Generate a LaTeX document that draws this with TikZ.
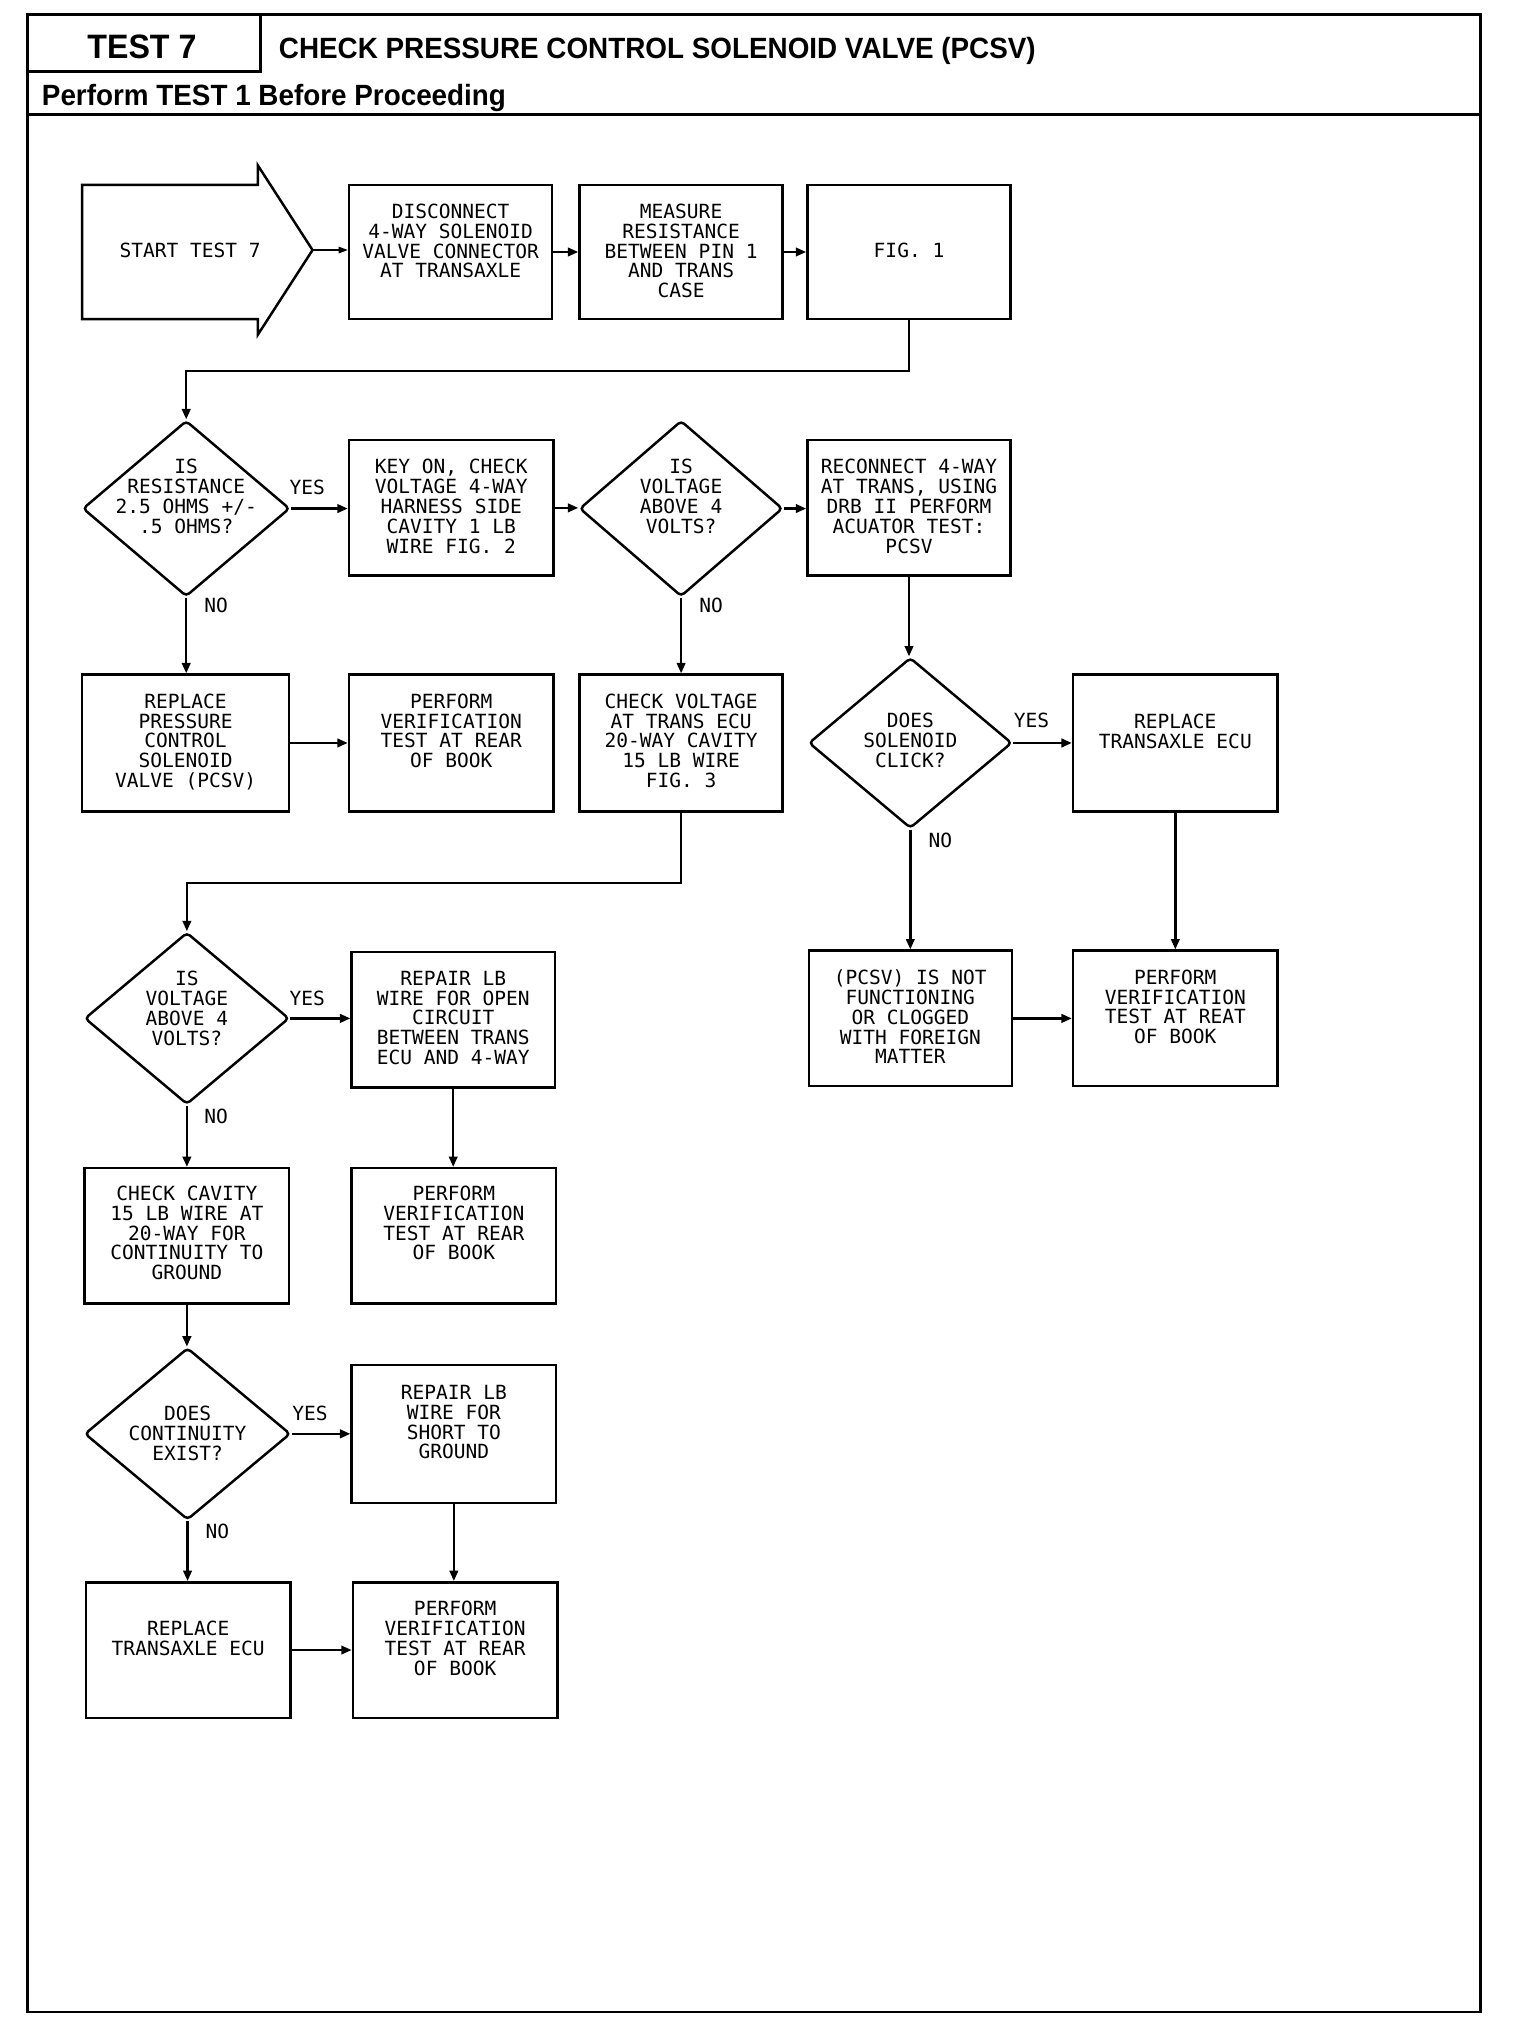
\documentclass[tikz,border=0pt]{standalone}
\usepackage{fontspec}
\usepackage{graphicx}
\setmainfont{Liberation Sans}
\newfontfamily\hdrfont[FakeStretch=0.95]{Liberation Sans}
\newfontfamily\plotfont{DejaVu Sans Mono}
\usetikzlibrary{arrows.meta,shapes.geometric}

\tikzset{
  x=1pt, y=-1pt,
  outer/.style={line width=2pt},
  box/.style={draw, line width=1.9pt, rectangle, inner sep=0pt},
  dia/.style={draw, line width=1.9pt, diamond, inner sep=0pt, rounded corners=3pt},
  txt/.style={font=\plotfont\fontsize{15}{15.2}\selectfont, align=center, inner sep=0pt, anchor=north},
  lbl/.style={font=\plotfont\fontsize{15}{15}\selectfont, inner sep=0pt},
  conn/.style={line width=1.9pt, -{Triangle[length=8pt,width=6.5pt]}},
  thinconn/.style={line width=1pt, -{Triangle[length=7pt,width=5pt]}},
  hdr/.style={font=\hdrfont\bfseries\fontsize{22.5}{25}\selectfont, inner sep=0pt},
  hdrbig/.style={font=\hdrfont\bfseries\fontsize{26}{30}\selectfont, inner sep=0pt},
}

% box: name, cx, cy, w, h, text-top y, text
\newcommand\bxnode[7]{%
  \node[box, minimum width=#4, minimum height=#5] (#1) at (#2,#3) {};
  \node[txt] (#1-t) at (#2,#6) {#7};
}
\newcommand\dinode[7]{%
  \node[dia, minimum width=#4, minimum height=#5] (#1) at (#2,#3) {};
  \node[txt] (#1-t) at (#2,#6) {#7};
}

\begin{document}
\begin{tikzpicture}
\fill[white] (0,0) rectangle (1167,1568);
\useasboundingbox (0,0) rectangle (1167,1568);

% header frame
\draw[outer] (21,11) rectangle (1137,1545);
\draw[outer] (200,11) -- (200,55) -- (21,55);
\draw[outer] (21,88) -- (1137,88);
\node[hdrbig, anchor=base] (test7) at (109,45) {TEST 7};
\node[hdr, anchor=base west] (title) at (214,45) {CHECK PRESSURE CONTROL SOLENOID VALVE (PCSV)};
\node[hdr, anchor=base west] (perform) at (32,81) {Perform TEST 1 Before Proceeding};

% start arrow
\draw[line width=1.9pt, line join=miter] (63,142) -- (198,142) -- (198,127) -- (240,192) -- (198,257) -- (198,245) -- (63,245) -- cycle;
\node[lbl] (start) at (146,192) {START TEST 7};
\coordinate (starttip) at (240,192);

% row 1
\bxnode{b1}{346}{193.5}{156}{103}{156.5}{DISCONNECT\\4-WAY SOLENOID\\VALVE CONNECTOR\\AT TRANSAXLE}
\bxnode{b2}{523}{193.5}{156}{103}{156.5}{MEASURE\\RESISTANCE\\BETWEEN PIN 1\\AND TRANS\\CASE}
\node[box, minimum width=156, minimum height=103] (b3) at (698,193.5) {};
\node[lbl] (b3-t) at (698,192) {FIG. 1};

% row 2
\dinode{d1}{143}{390.5}{159}{135}{352.5}{IS\\RESISTANCE\\2.5 OHMS +/-\\.5 OHMS?}
\bxnode{b4}{346.5}{390}{157}{104}{352.5}{KEY ON, CHECK\\VOLTAGE 4-WAY\\HARNESS SIDE\\CAVITY 1 LB\\WIRE FIG. 2}
\dinode{d2}{523}{390.5}{156}{135}{352.5}{IS\\VOLTAGE\\ABOVE 4\\VOLTS?}
\bxnode{b5}{698}{390}{156}{104}{352.5}{RECONNECT 4-WAY\\AT TRANS, USING\\DRB II PERFORM\\ACUATOR TEST:\\PCSV}

% row 3
\bxnode{b6}{142.5}{570.5}{159}{105}{532.5}{REPLACE\\PRESSURE\\CONTROL\\SOLENOID\\VALVE (PCSV)}
\bxnode{b7}{346.5}{570.5}{157}{105}{532.5}{PERFORM\\VERIFICATION\\TEST AT REAR\\OF BOOK}
\bxnode{b8}{523}{570.5}{156}{105}{532.5}{CHECK VOLTAGE\\AT TRANS ECU\\20-WAY CAVITY\\15 LB WIRE\\FIG. 3}
\dinode{d3}{699}{570.5}{156}{131}{547.5}{DOES\\SOLENOID\\CLICK?}
\bxnode{b9}{902.5}{570.5}{157}{105}{548}{REPLACE\\TRANSAXLE ECU}

% row 3b
\bxnode{b10}{699}{782}{156}{104}{744.5}{(PCSV) IS NOT\\FUNCTIONING\\OR CLOGGED\\WITH FOREIGN\\MATTER}
\bxnode{b11}{902.5}{782}{157}{104}{744.5}{PERFORM\\VERIFICATION\\TEST AT REAT\\OF BOOK}

% row 4
\dinode{d4}{143.5}{782}{157}{132}{745.5}{IS\\VOLTAGE\\ABOVE 4\\VOLTS?}
\bxnode{b12}{348}{783}{156}{104}{745.5}{REPAIR LB\\WIRE FOR OPEN\\CIRCUIT\\BETWEEN TRANS\\ECU AND 4-WAY}
\bxnode{b13}{143.5}{949}{157}{104}{910.5}{CHECK CAVITY\\15 LB WIRE AT\\20-WAY FOR\\CONTINUITY TO\\GROUND}
\bxnode{b14}{348.5}{949}{157}{104}{910.5}{PERFORM\\VERIFICATION\\TEST AT REAR\\OF BOOK}
\dinode{d5}{144}{1101}{158}{132}{1079.5}{DOES\\CONTINUITY\\EXIST?}
\bxnode{b15}{348.5}{1101}{157}{106}{1063.5}{REPAIR LB\\WIRE FOR\\SHORT TO\\GROUND}
\bxnode{b16}{144.5}{1267}{157}{104}{1244.5}{REPLACE\\TRANSAXLE ECU}
\bxnode{b17}{349.5}{1267}{157}{104}{1229.5}{PERFORM\\VERIFICATION\\TEST AT REAR\\OF BOOK}

% labels
\node[lbl] (yes1) at (236,374) {YES};
\node[lbl] (no1) at (166,465) {NO};
\node[lbl] (no2) at (546,465) {NO};
\node[lbl] (yes3) at (792,553) {YES};
\node[lbl] (no3) at (722,645) {NO};
\node[lbl] (yes4) at (236,767) {YES};
\node[lbl] (no4) at (166,857) {NO};
\node[lbl] (yes5) at (238,1085) {YES};
\node[lbl] (no5) at (167,1176) {NO};

% connectors
\draw[thinconn] (starttip) -- (starttip -| b1.west);
\draw[conn] (b1.east) -- (b1.east -| b2.west);
\draw[conn] (b2.east) -- (b2.east -| b3.west);
\draw[conn] (b3.south) -- ++(0,39) -| (d1.north);
\draw[conn] (d1.east) -- (d1.east -| b4.west);
\draw[conn] (b4.east) -- (b4.east -| d2.west);
\draw[conn] (d2.east) -- (d2.east -| b5.west);
\draw[conn] (d1.south) -- (d1.south |- b6.north);
\draw[conn] (d2.south) -- (d2.south |- b8.north);
\draw[conn] (b5.south) -- (b5.south |- d3.north);
\draw[conn] (b6.east) -- (b6.east -| b7.west);
\draw[conn] (d3.east) -- (d3.east -| b9.west);
\draw[conn] (d3.south) -- (d3.south |- b10.north);
\draw[conn] (b9.south) -- (b9.south |- b11.north);
\draw[conn] (b10.east) -- (b10.east -| b11.west);
\draw[conn] (b8.south) -- ++(0,54) -| (d4.north);
\draw[conn] (d4.east) -- (d4.east -| b12.west);
\draw[conn] (d4.south) -- (d4.south |- b13.north);
\draw[conn] (b12.south) -- (b12.south |- b14.north);
\draw[conn] (b13.south) -- (b13.south |- d5.north);
\draw[conn] (d5.east) -- (d5.east -| b15.west);
\draw[conn] (d5.south) -- (d5.south |- b16.north);
\draw[conn] (b15.south) -- (b15.south |- b17.north);
\draw[conn] (b16.east) -- (b16.east -| b17.west);
\end{tikzpicture}
\end{document}
